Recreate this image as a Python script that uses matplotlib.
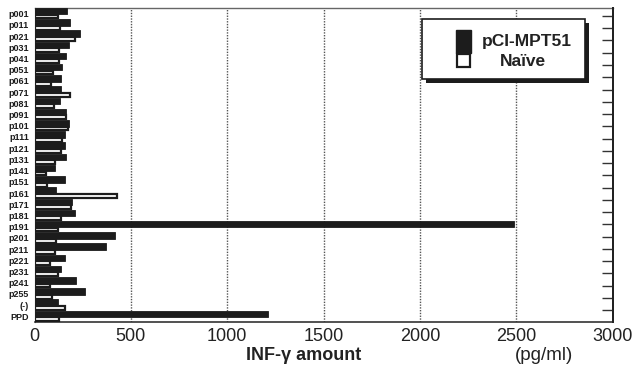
import numpy as np
import matplotlib
matplotlib.use("Agg")
import matplotlib.pyplot as plt
from matplotlib.patches import Rectangle

plt.rcParams['font.family'] = ['Liberation Sans', 'DejaVu Sans']

# Peptide pools, negative control and PPD
categories = ['p001', 'p011', 'p021', 'p031', 'p041', 'p051', 'p061', 'p071',
              'p081', 'p091', 'p101', 'p111', 'p121', 'p131', 'p141', 'p151',
              'p161', 'p171', 'p181', 'p191', 'p201', 'p211', 'p221', 'p231',
              'p241', 'p255', '(-)', 'PPD']

# IFN-gamma (pg/ml)
immunized = [168, 185, 237, 180, 163, 145, 139, 139, 130, 165, 180, 160, 160,
             165, 104, 160, 110, 195, 209, 2490, 418, 372, 160, 140, 217, 260,
             120, 1210]
naive = [120, 130, 212, 128, 128, 96, 87, 183, 100, 165, 175, 145, 135, 104,
         61, 65, 430, 188, 135, 120, 110, 105, 78, 120, 80, 90, 160, 125]

series_labels = ['pCI-MPT51', 'Naïve']
x_ticks = [0, 500, 1000, 1500, 2000, 2500, 3000]

W, H = 634, 375
fig = plt.figure(figsize=(W / 100, H / 100), dpi=100)
ax = fig.add_axes([34.5 / W, 1 - 322 / H, 578 / W, 314 / H])

y = np.arange(len(categories))
ax.barh(y - 0.22, immunized, height=0.58, color='#1c1c1c', edgecolor='#1c1c1c',
        linewidth=0.6, zorder=3)
ax.barh(y + 0.25, naive, height=0.34, color='white', edgecolor='#1c1c1c',
        linewidth=1.6, zorder=3)

ax.set_xlim(0, 3000)
ax.set_ylim(len(categories) - 0.5, -0.5)
ax.set_xticks(x_ticks)
ax.set_xticklabels([str(v) for v in x_ticks], fontsize=13, color='#222222')
ax.set_yticks(y)
ax.set_yticklabels(categories, fontsize=6.5, fontweight='bold', color='#1c1c1c')
ax.tick_params(axis='y', length=0, pad=4)
ax.tick_params(axis='x', length=0, pad=4)

# dotted vertical grid
for v in x_ticks[1:-1]:
    ax.axvline(v, color='#555555', linestyle=(0, (1, 1)), linewidth=1.0, zorder=1)

ax.spines['top'].set_linestyle((0, (1, 1)))
ax.spines['top'].set_color('#666666')
ax.spines['top'].set_linewidth(1.0)
ax.spines['bottom'].set_color('#333333')
ax.spines['bottom'].set_linewidth(1.2)
ax.spines['left'].set_color('#333333')
ax.spines['right'].set_color('#222222')
ax.spines['right'].set_linewidth(1.4)

# inward ticks along the right edge
rax = ax.twinx()
rax.set_ylim(0, 25.6)
rax.set_yticks(np.arange(25) + 0.955)
rax.set_yticklabels([])
rax.tick_params(axis='y', direction='in', length=8, width=1.0, color='#333333')
for s in ['top', 'bottom', 'left']:
    rax.spines[s].set_visible(False)
rax.spines['right'].set_color('#222222')
rax.spines['right'].set_linewidth(1.4)

# axis titles
fig.text(304 / W, 1 - 356 / H, 'INF-γ amount', ha='center', va='center',
         fontsize=13, fontweight='bold', color='#222222')
fig.text(544 / W, 1 - 356 / H, '(pg/ml)', ha='center', va='center',
         fontsize=13.5, color='#222222')

# legend box with drop shadow
def px(xp, yp):
    return (xp - 34.5) / 578, (322 - yp) / 314

bx0, by0 = px(422, 79)
bx1, by1 = px(585, 19)
sx, sy = 4 / 578, 4 / 314
ax.add_patch(Rectangle((bx0 + sx, by0 - sy), bx1 - bx0, by1 - by0,
                       transform=ax.transAxes, facecolor='#1c1c1c',
                       edgecolor='none', zorder=5, clip_on=False))
ax.add_patch(Rectangle((bx0, by0), bx1 - bx0, by1 - by0, transform=ax.transAxes,
                       facecolor='white', edgecolor='#1c1c1c', linewidth=1.2,
                       zorder=6, clip_on=False))
hx0, hy0 = px(456, 53)
hx1, hy1 = px(471, 30)
ax.add_patch(Rectangle((hx0, hy0), hx1 - hx0, hy1 - hy0, transform=ax.transAxes,
                       facecolor='#1c1c1c', edgecolor='#1c1c1c', linewidth=1.0,
                       zorder=7))
wx0, wy0 = px(457, 67)
wx1, wy1 = px(470, 54)
ax.add_patch(Rectangle((wx0, wy0), wx1 - wx0, wy1 - wy0, transform=ax.transAxes,
                       facecolor='white', edgecolor='#1c1c1c', linewidth=1.6,
                       zorder=7))
tx, ty = px(527, 41.5)
ax.text(tx, ty, series_labels[0], transform=ax.transAxes, ha='center',
        va='center', fontsize=12.5, fontweight='bold', color='#222222', zorder=8)
tx, ty = px(523, 62)
ax.text(tx, ty, series_labels[1], transform=ax.transAxes, ha='center',
        va='center', fontsize=12.5, fontweight='bold', color='#222222', zorder=8)

fig.savefig('out.png', dpi=100)
